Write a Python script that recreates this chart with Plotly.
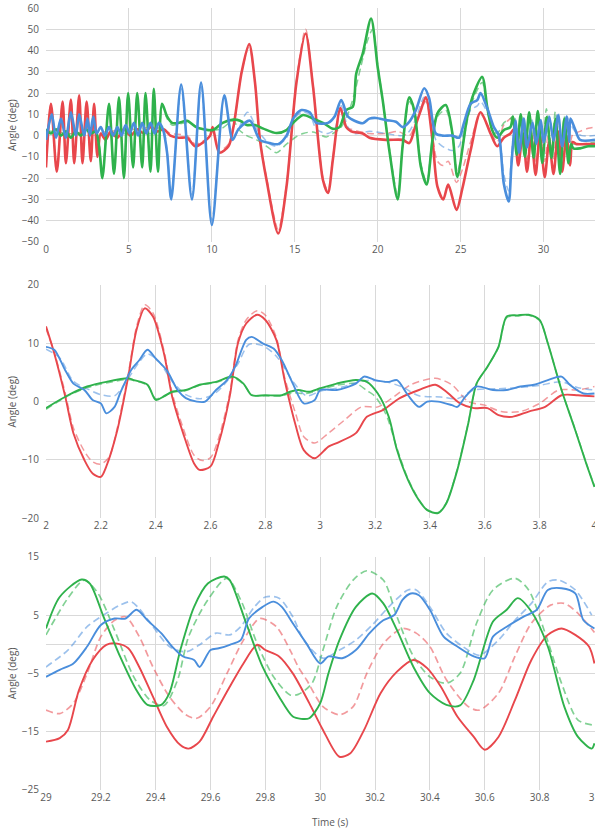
import plotly.graph_objects as go

# ---------------- Panel 1 (0-33 s) ----------------
red1_t = [0, 0.3, 0.65, 1.0, 1.2, 1.5, 1.7, 2.0, 2.2, 2.45, 2.7, 2.9, 3.1, 3.3, 3.6, 3.9, 4.3, 4.7, 5.1, 5.5, 5.9, 6.3, 6.7, 7.1, 7.5, 8.0, 8.5, 9.0, 9.5, 9.9, 10.05, 10.45, 11.0, 11.3, 11.8, 12.25, 12.6, 12.9, 13.3, 14.0, 14.5, 15.1, 15.65, 16.1, 16.7, 17.0, 17.3, 17.75, 18.1, 18.4, 19.1, 19.5, 20.5, 21.5, 21.9, 22.25, 22.6, 22.9, 23.3, 23.6, 23.95, 24.25, 24.75, 25.1, 25.6, 26.2, 26.8, 27.2, 27.6, 28.0, 28.2, 28.47, 28.75, 29.0, 29.25, 29.52, 29.77, 30.07, 30.33, 30.6, 30.87, 31.12, 31.38, 31.6, 31.75, 32.0, 32.5, 33.1]
red1_v = [-15, 15, -17, 16, -13, 17, -13, 19, -13, 16, -12, 15, -10, 1, -2, 2, -1, 3, 0, 3, 1, 4, 2, 3, 0, -1, -1, -5, -3, 0, 4, -8, -5, 4, 30, 43, 25, -2, -21, -46, -24, 25, 48, 23, -21, -27, -11, 13, 4, 2, 1, -1, -2, -2, -3.5, 4, 12, 18, -2, -24, -30, -23, -35, -25, -7, 11, 1, -5, -1, 1, 3, -14, 1, -17, 0, -18.5, 0, -19.5, -3, -18, 2, -17, 0, -14, -3, -4, -4, -4]
red1d_t = [0, 0.3, 0.65, 1.0, 1.2, 1.5, 1.7, 2.0, 2.2, 2.45, 2.7, 2.9, 3.1, 3.3, 3.9, 4.7, 5.5, 6.3, 7.1, 7.5, 8.5, 9.0, 9.9, 10.05, 10.45, 11.0, 11.3, 11.8, 12.25, 12.6, 12.9, 13.3, 14.0, 14.5, 15.1, 15.65, 16.1, 16.7, 17.0, 17.3, 17.75, 18.1, 18.4, 19.5, 20.5, 21.2, 21.9, 22.25, 22.9, 23.3, 23.6, 23.95, 24.25, 24.75, 25.1, 25.6, 26.2, 26.8, 27.2, 27.6, 28.0, 28.2, 28.47, 28.75, 29.0, 29.29, 29.55, 29.78, 30.07, 30.3, 30.58, 30.89, 31.15, 31.4, 31.6, 31.75, 32.2, 32.7, 33.1]
red1d_v = [-14, 15, -16, 16, -12, 17, -12, 18, -12, 16, -11, 14, -9, 1, 2, 3, 3, 4, 3, 1, 0, -4, 0, 3, -7, -4, 4, 30, 42, 25, -2, -20, -44, -23, 26, 50, 24, -20, -26, -10, 12, 4, 3, 1, 1, 2, 0, 5, 16, 0, -12, -14, -12, -22, -16, -3, 10, 2, -3, 5, 8, 9, -9, 5, -11.3, 4.7, -12.7, 4.4, -12.1, 2.7, -11.3, 7, -8, 5, -4, 0.5, 2, 3.5, 4]

green1_t = [0, 0.3, 0.6, 0.9, 1.2, 1.5, 1.8, 2.1, 2.4, 2.7, 3.0, 3.2, 3.4, 3.8, 4.1, 4.4, 4.7, 4.95, 5.25, 5.5, 5.8, 6.0, 6.3, 6.5, 6.75, 7.0, 7.3, 7.6, 8.0, 8.5, 9.05, 9.5, 10.05, 10.65, 11.3, 11.7, 12.1, 12.6, 13.1, 13.9, 14.5, 14.9, 15.5, 16.1, 16.7, 17.3, 17.7, 18.1, 18.5, 18.7, 19.1, 19.6, 20.0, 20.3, 20.7, 21.2, 21.5, 21.9, 22.2, 22.6, 22.95, 23.3, 23.6, 24.1, 24.5, 24.8, 25.4, 25.8, 26.3, 26.6, 26.9, 27.2, 27.6, 28.0, 28.15, 28.38, 28.62, 28.87, 29.13, 29.4, 29.65, 29.92, 30.19, 30.48, 30.72, 31.0, 31.25, 31.5, 31.65, 31.8, 32.2, 32.7, 33.1]
green1_v = [3, 1, 3, 0, 2, -1, 2, 0, 3, 1, 2, -5, -20, 15, -18, 18, -20, 20, -15, 20, -15, 20, -17, 22, -17, 15, 9, 6, 6, 7, 4, 3, 2.6, 6, 7.5, 7, 5, 5, 3.3, 1.2, 2.6, 6, 9.7, 8, 6, 3.2, 4, 12, 13.6, 29, 38.7, 55, 32, 16.7, -7, -30, -5, 18, 12, -14.6, -23, -2, 10.5, 14.4, 1.2, -19.4, 8.8, 20, 27.6, 13.5, 2.6, -1, 2.6, 4, 9, -9, 10, -10, 11, -10.4, 11.6, -12.9, 8.7, -10.5, 7.9, -18, 8, -13, -4, -6, -6, -5, -5]
green1d_t = [0, 0.6, 1.2, 1.8, 2.4, 3.0, 3.2, 3.4, 3.8, 4.1, 4.4, 4.7, 4.95, 5.25, 5.5, 5.8, 6.0, 6.3, 6.5, 6.75, 7.0, 7.3, 7.6, 8.5, 9.5, 10.5, 11.3, 11.6, 12.1, 12.7, 13.3, 13.9, 14.5, 15.0, 15.5, 16.1, 16.9, 17.3, 17.8, 18.2, 18.6, 19.0, 19.4, 19.7, 20.0, 20.3, 20.7, 21.2, 21.5, 21.9, 22.2, 22.6, 22.95, 23.3, 23.6, 24.1, 24.5, 24.8, 25.4, 25.8, 26.3, 26.6, 26.9, 27.2, 27.6, 28.0, 28.15, 28.4, 28.64, 28.9, 29.14, 29.43, 29.66, 29.92, 30.17, 30.46, 30.71, 31.0, 31.25, 31.5, 31.65, 31.8, 32.3, 33.1]
green1d_v = [2, 2, 1, 1, 2, 2, -4, -18, 14, -17, 17, -19, 19, -14, 19, -14, 19, -16, 21, -16, 14, 8, 5, 6, 3, 3, 7, 3, 0, -2, -5, -8, -4, -1, 1, 1.7, -0.6, 1, 4, 10, 20, 33, 45, 50, 33, 17, -6, -28, -5, 16, 11, -13, -22, -1, 9, 12, 0, -17, 7, 18, 25, 12, 3, 1, 6, 8, 9, -8, 10, -9, 11, -10.5, 11.3, -9, 12.6, -6.7, 11.3, -13.9, 9, -10, -3, -4, -4, -3]

blue1_t = [0, 0.35, 0.6, 0.9, 1.2, 1.5, 1.8, 2.0, 2.3, 2.5, 2.65, 2.85, 3.05, 3.3, 3.55, 3.8, 4.05, 4.3, 4.55, 4.8, 5.05, 5.3, 5.55, 5.8, 6.05, 6.3, 6.55, 6.8, 7.05, 7.3, 7.55, 8.15, 8.8, 9.35, 10.0, 10.75, 11.25, 11.6, 12.3, 12.9, 13.5, 14.0, 14.5, 14.9, 15.4, 15.9, 16.3, 17.0, 17.4, 17.8, 18.2, 18.6, 19.1, 19.5, 19.9, 20.5, 21.1, 21.5, 21.9, 22.3, 22.8, 23.1, 23.3, 23.5, 23.9, 24.5, 24.9, 25.2, 25.6, 26.0, 26.2, 26.6, 27.0, 27.3, 27.6, 27.9, 28.05, 28.2, 28.3, 28.52, 28.8, 29.0, 29.33, 29.56, 29.83, 30.0, 30.34, 30.6, 30.88, 31.12, 31.4, 31.55, 31.62, 31.9, 32.2, 33.1]
blue1_v = [-2, 10, -1, 8, -1, 11, 0, 10, 0, 8, 0, 9, 1, 4, 0, 4, 0, 4, 0, 5, 1, 6, 0, 6, 1, 6, 1, 6, 3, -8, -30, 24, -30, 25, -42, 19, -2, 3, 7, -2, -3.5, -4, 0, 8, 12, 11, 6, 6, 9, 16.7, 9, 7, 5.8, 8, 8.3, 7.3, 6.5, 4, 6.5, 12, 22.3, 17.6, 7.3, 1, 0, 0, -1, 6, 15, 16.7, 20, 13, 4, 0, -22.5, -31, -15, 0, 7, -8, 8, -5.6, 6, -3.9, 7.3, -3.3, 8.7, -2.4, 9.6, -5, 9, -3, 8, 3, -2, -2]
blue1d_t = [0, 0.35, 0.6, 0.9, 1.2, 1.5, 1.8, 2.0, 2.3, 2.5, 2.65, 2.85, 3.05, 3.55, 4.05, 4.55, 5.05, 5.55, 6.05, 6.55, 7.05, 7.3, 7.55, 8.15, 8.8, 9.35, 10.0, 10.75, 11.25, 11.6, 12.15, 12.8, 13.5, 13.9, 14.5, 14.9, 15.4, 15.9, 16.3, 17.0, 17.4, 17.8, 18.2, 18.6, 19.5, 20.5, 21.5, 21.9, 22.3, 22.8, 23.1, 23.3, 23.5, 23.9, 24.5, 24.9, 25.2, 25.6, 26.0, 26.2, 26.6, 27.0, 27.3, 27.6, 27.9, 28.05, 28.2, 28.3, 28.52, 28.8, 29.0, 29.31, 29.51, 29.8, 30.01, 30.34, 30.58, 30.87, 31.12, 31.4, 31.6, 31.9, 32.3, 33.1]
blue1d_v = [-1, 9, -1, 8, -1, 10, 0, 9, 0, 8, 0, 8, 1, 0, 1, 1, 1, 1, 1, 1, 3, -7, -28, 22, -28, 23, -40, 18, -2, 3, 11, 2, -4, -5, -1, 7, 11, 10, 3, 1, 3, 14, 4, 1, 2, 1, 0, 2, 8, 18, 14, 5, -2, -5, -7, -5, 3, 12, 14, 16, 11, 4, 1, -18, -26, -10, 2, 8, -6, 8, -3.9, 7.3, -1.3, 8.1, -2.4, 9.3, -1.9, 11, -3, 9, 6, 2, 0, 0]

# ---------------- Panel 2 (2-4 s) ----------------
red2_t = [2.0, 2.03, 2.07, 2.1, 2.14, 2.17, 2.2, 2.22, 2.26, 2.3, 2.33, 2.36, 2.39, 2.43, 2.46, 2.5, 2.54, 2.56, 2.6, 2.63, 2.67, 2.7, 2.73, 2.77, 2.8, 2.84, 2.87, 2.91, 2.94, 2.98, 3.03, 3.06, 3.13, 3.17, 3.23, 3.29, 3.36, 3.42, 3.46, 3.51, 3.56, 3.61, 3.65, 3.7, 3.76, 3.82, 3.88, 3.94, 4.0]
red2_v = [12.9, 8.3, 0.9, -5.4, -10, -12.3, -12.9, -11.1, -4.9, 4.3, 12.3, 16, 14.6, 8.3, 0.9, -5.4, -10.6, -11.7, -11.1, -7.1, 0.9, 10, 13.4, 14.9, 14, 10.6, 3.7, -4, -8.3, -9.7, -7.7, -7.1, -5.4, -2.6, -1.4, 0.6, 2, 2.9, 1.7, -0.3, -1.1, -1.1, -2.3, -2.6, -1.7, -0.9, 1.1, 1.1, 0.9]
red2d_t = [2.0, 2.03, 2.07, 2.1, 2.14, 2.17, 2.2, 2.23, 2.26, 2.3, 2.33, 2.36, 2.39, 2.43, 2.46, 2.5, 2.54, 2.57, 2.6, 2.63, 2.67, 2.7, 2.73, 2.77, 2.8, 2.84, 2.87, 2.91, 2.94, 2.98, 3.03, 3.09, 3.15, 3.21, 3.27, 3.33, 3.42, 3.48, 3.54, 3.6, 3.66, 3.73, 3.8, 3.87, 3.94, 4.0]
red2d_v = [12.5, 8.5, 1.5, -4.5, -8.5, -10.3, -10.7, -9.5, -4.5, 4.8, 12.8, 16.6, 15.2, 8.8, 1.5, -4.5, -9.2, -10.1, -9.6, -6.2, 1.5, 10.5, 14, 15.6, 14.8, 11, 4.2, -2, -6, -7.1, -5.4, -3.1, -0.9, -0.9, 0.9, 2.9, 4, 2.9, 0, -0.6, -1.7, -1.7, -0.3, 2, 2, 2.6]

green2_t = [2.0, 2.08, 2.15, 2.22, 2.3, 2.32, 2.37, 2.4, 2.43, 2.46, 2.51, 2.56, 2.62, 2.68, 2.72, 2.75, 2.8, 2.86, 2.89, 2.92, 2.96, 3.0, 3.06, 3.13, 3.17, 3.21, 3.25, 3.28, 3.32, 3.36, 3.39, 3.43, 3.46, 3.5, 3.54, 3.57, 3.61, 3.65, 3.68, 3.72, 3.76, 3.8, 3.83, 3.88, 3.93, 3.97, 4.0]
green2_v = [-1.1, 1.1, 2.6, 3.4, 4, 3.7, 2.9, 0.3, 0.9, 1.7, 2, 2.9, 3.4, 4.3, 3.1, 1.1, 1.1, 1.1, 1.7, 2, 1.7, 2.3, 3.1, 3.7, 3.4, 1.4, -2.6, -8.3, -13.4, -16.9, -18.6, -19.1, -17.4, -11.7, -3.7, 3.1, 6, 9.4, 14.6, 14.8, 14.9, 14, 10, 2, -4.9, -10.6, -14.6]
green2d_t = [2.0, 2.08, 2.15, 2.22, 2.3, 2.32, 2.37, 2.4, 2.43, 2.46, 2.51, 2.56, 2.62, 2.68, 2.72, 2.75, 2.8, 2.86, 2.9, 2.95, 3.0, 3.06, 3.13, 3.17, 3.2, 3.24, 3.28, 3.32, 3.36, 3.39, 3.43, 3.46, 3.5, 3.54, 3.57, 3.61, 3.65, 3.68, 3.72, 3.76, 3.8, 3.83, 3.88, 3.93, 3.97, 4.0]
green2d_v = [-1.3, 1.0, 2.4, 3.2, 3.8, 3.6, 2.8, 0.5, 1.0, 1.6, 1.9, 2.8, 3.3, 4.1, 3.0, 1.2, 1.0, 1.0, 1.5, 1.4, 2.0, 2.8, 3.1, 1.9, 0.9, -2.2, -8.0, -13.2, -16.8, -18.5, -19.0, -17.3, -11.5, -3.6, 3.0, 6.0, 9.3, 14.4, 14.7, 14.8, 13.9, 10.0, 2.0, -4.8, -10.5, -14.5]

blue2_t = [2.0, 2.03, 2.07, 2.1, 2.14, 2.17, 2.2, 2.22, 2.25, 2.27, 2.31, 2.34, 2.37, 2.4, 2.44, 2.48, 2.51, 2.55, 2.58, 2.62, 2.66, 2.69, 2.73, 2.75, 2.79, 2.83, 2.86, 2.9, 2.94, 2.98, 3.0, 3.06, 3.13, 3.16, 3.2, 3.25, 3.28, 3.32, 3.36, 3.39, 3.43, 3.48, 3.5, 3.53, 3.57, 3.63, 3.68, 3.73, 3.78, 3.83, 3.88, 3.91, 3.96, 4.0]
blue2_v = [9.4, 8.9, 5.4, 3.1, 2, 0.3, -0.3, -2, -0.9, 1.4, 5.4, 7.1, 8.9, 7.4, 5.4, 2, 0.6, 0, 0, 2, 3.7, 6, 10.6, 11.1, 10, 9.1, 7.1, 3.1, -0.3, 0.3, 2, 2, 3.1, 4.3, 3.7, 3.4, 3.7, 1.1, -0.9, 0, 0, -0.6, -0.9, 0.9, 2.6, 2, 2, 2.6, 2.9, 3.7, 4.3, 2.9, 1.4, 1.4]
blue2d_t = [2.0, 2.05, 2.1, 2.15, 2.2, 2.25, 2.3, 2.34, 2.37, 2.41, 2.46, 2.51, 2.56, 2.61, 2.66, 2.7, 2.74, 2.79, 2.84, 2.9, 2.95, 3.0, 3.08, 3.16, 3.24, 3.3, 3.36, 3.44, 3.5, 3.56, 3.64, 3.72, 3.8, 3.88, 3.94, 4.0]
blue2d_v = [9.0, 7.5, 3.5, 2.2, 1.2, 1.0, 4.0, 6.8, 8.2, 7.0, 3.5, 1.2, 0.5, 1.2, 3.5, 6.5, 9.8, 9.6, 7.8, 3.5, 1.0, 1.8, 2.5, 3.6, 3.4, 2.5, 1.0, 0.8, 0.5, 2.0, 2.2, 2.4, 2.8, 3.4, 2.4, 2.0]

# ---------------- Panel 3 (29-31 s) ----------------
red3_t = [29.0, 29.05, 29.08, 29.12, 29.17, 29.22, 29.26, 29.3, 29.34, 29.39, 29.44, 29.49, 29.52, 29.56, 29.61, 29.67, 29.72, 29.77, 29.8, 29.85, 29.9, 29.96, 30.01, 30.07, 30.11, 30.16, 30.22, 30.28, 30.34, 30.39, 30.44, 30.5, 30.56, 30.6, 30.65, 30.71, 30.77, 30.83, 30.88, 30.93, 30.98, 31.0]
red3_v = [-16.7, -16.1, -14.7, -7.9, -2.7, -0.1, 0.1, -0.7, -3.9, -9, -14.1, -17.3, -17.9, -16.7, -12.4, -7.3, -3.3, -0.1, -1, -2.1, -5, -10.1, -14.7, -19.3, -18.7, -14.7, -8.4, -4.7, -2.7, -4.1, -7.3, -12.4, -15.9, -18.1, -15.9, -9.6, -2.7, 1.6, 2.7, 1.6, -0.4, -3.3]
red3d_t = [29.0, 29.05, 29.1, 29.15, 29.2, 29.25, 29.29, 29.34, 29.39, 29.45, 29.51, 29.55, 29.6, 29.66, 29.72, 29.78, 29.84, 29.89, 29.92, 29.95, 30.01, 30.07, 30.12, 30.17, 30.23, 30.3, 30.35, 30.4, 30.46, 30.54, 30.58, 30.65, 30.71, 30.77, 30.84, 30.89, 30.94, 31.0]
red3d_v = [-11.3, -11.9, -10.1, -5, 1.3, 4.1, 4.7, 1.3, -3.9, -9, -12.1, -12.7, -10.7, -5, 0.7, 4.4, 3, -1, -3.9, -6.1, -10.7, -12.1, -10.7, -5, 0.1, 2.7, 1.9, -0.4, -6.1, -10.7, -11.3, -8.4, -2.1, 3.6, 6.7, 7, 5.3, 2]

green3_t = [29.0, 29.05, 29.13, 29.16, 29.21, 29.27, 29.33, 29.37, 29.42, 29.45, 29.49, 29.54, 29.59, 29.65, 29.67, 29.73, 29.79, 29.85, 29.9, 29.93, 29.96, 30.0, 30.03, 30.07, 30.13, 30.19, 30.23, 30.28, 30.34, 30.4, 30.46, 30.51, 30.56, 30.63, 30.68, 30.72, 30.77, 30.83, 30.89, 30.94, 30.99, 31.0]
green3_v = [2.7, 8.1, 11.1, 10.4, 4.7, -2.1, -7.9, -10.4, -10.4, -8.4, -1, 6.4, 10.4, 11.6, 11, 3.6, -3.9, -9, -12.4, -12.8, -12.7, -10.1, -5, 0.7, 6.4, 8.7, 7, 2.4, -3.9, -8.4, -10.4, -10.5, -6.1, 3.9, 5.9, 7.9, 5.6, -0.4, -10.7, -15.9, -17.9, -17]
green3d_t = [29.0, 29.08, 29.14, 29.19, 29.25, 29.32, 29.38, 29.43, 29.48, 29.52, 29.59, 29.66, 29.71, 29.77, 29.83, 29.89, 29.92, 29.97, 30.01, 30.06, 30.12, 30.17, 30.23, 30.28, 30.34, 30.4, 30.46, 30.51, 30.57, 30.63, 30.71, 30.76, 30.82, 30.88, 30.94, 31.0]
green3d_v = [1.6, 7.9, 11, 8.7, 2.4, -5.6, -9.6, -10.5, -6.1, 1.3, 7.6, 11.3, 7.6, 0.1, -5.6, -8.7, -8.6, -6.7, -1, 6.4, 11, 12.6, 11, 4.7, -2.1, -5.6, -6.7, -5, 3.6, 9.3, 11.3, 9.3, 1.9, -6.7, -13, -13.9]

blue3_t = [29.0, 29.05, 29.1, 29.15, 29.2, 29.25, 29.29, 29.33, 29.37, 29.42, 29.46, 29.5, 29.54, 29.56, 29.6, 29.63, 29.67, 29.71, 29.74, 29.79, 29.83, 29.86, 29.9, 29.95, 30.0, 30.03, 30.08, 30.13, 30.18, 30.23, 30.27, 30.3, 30.33, 30.36, 30.4, 30.45, 30.5, 30.56, 30.6, 30.63, 30.68, 30.74, 30.79, 30.83, 30.88, 30.93, 30.96, 31.0]
blue3_v = [-5.6, -4.4, -3.3, -0.4, 3.3, 4.4, 4.4, 5.9, 4.1, 1.9, -0.4, -2.1, -2.7, -3.9, -1, -0.7, -0.1, 0.7, 4.4, 6.4, 7.3, 6.4, 3.6, 0.1, -3.3, -2.1, -2.4, -1, 1.9, 4.1, 5, 7.6, 8.7, 8.4, 5.9, 1.3, -0.4, -2.1, -2.4, 1.3, 3, 4.7, 5.9, 9.3, 9.6, 8.7, 4.1, 2.7]
blue3d_t = [29.0, 29.08, 29.15, 29.21, 29.27, 29.31, 29.34, 29.39, 29.45, 29.51, 29.56, 29.62, 29.67, 29.71, 29.76, 29.8, 29.85, 29.9, 29.94, 30.01, 30.07, 30.13, 30.19, 30.25, 30.32, 30.35, 30.4, 30.46, 30.52, 30.58, 30.65, 30.71, 30.77, 30.83, 30.87, 30.93, 30.99]
blue3d_v = [-3.9, -1, 3, 5, 6.7, 7.3, 6.1, 3, -0.4, -1.3, -0.1, 1.9, 1.6, 3, 6.4, 8.1, 7.9, 4.7, 0.7, -2.4, -1, 0.7, 3.3, 6.4, 9.3, 9.3, 6.4, 1.9, -0.4, -1.9, 0.7, 4.1, 7, 10.7, 11, 9.3, 5]

# ---------------- styling ----------------
RED = "#E8474C"
GREEN = "#2FB24C"
BLUE = "#4A8EDC"
RED_D = "rgba(232,71,76,0.55)"
GREEN_D = "rgba(47,178,76,0.6)"
BLUE_D = "rgba(74,142,220,0.55)"

fig = go.Figure()

panels = [
    ("x", "y", [(red1d_t, red1d_v, RED_D), (green1d_t, green1d_v, GREEN_D), (blue1d_t, blue1d_v, BLUE_D)],
     [(red1_t, red1_v, RED), (green1_t, green1_v, GREEN), (blue1_t, blue1_v, BLUE)], 2.6, 1.5),
    ("x2", "y2", [(red2d_t, red2d_v, RED_D), (green2d_t, green2d_v, GREEN_D), (blue2d_t, blue2d_v, BLUE_D)],
     [(red2_t, red2_v, RED), (green2_t, green2_v, GREEN), (blue2_t, blue2_v, BLUE)], 1.9, 1.5),
    ("x3", "y3", [(red3d_t, red3d_v, RED_D), (green3d_t, green3d_v, GREEN_D), (blue3d_t, blue3d_v, BLUE_D)],
     [(red3_t, red3_v, RED), (green3_t, green3_v, GREEN), (blue3_t, blue3_v, BLUE)], 1.9, 1.7),
]

for xa, ya, dashed, solid, sw, dw in panels:
    for t, v, c in dashed:
        fig.add_trace(go.Scatter(x=t, y=v, mode="lines", xaxis=xa, yaxis=ya,
                                 line=dict(color=c, width=dw, dash="7px,4px", shape="spline", smoothing=0.8),
                                 showlegend=False, hoverinfo="skip"))
    for t, v, c in solid:
        fig.add_trace(go.Scatter(x=t, y=v, mode="lines", xaxis=xa, yaxis=ya,
                                 line=dict(color=c, width=sw, shape="spline", smoothing=0.8),
                                 showlegend=False, hoverinfo="skip"))

GRID = "#D9D9D9"
TICKF = dict(family="Open Sans, Arial, sans-serif", size=10, color="#595959")

def xax(rng, dtick, tick0, anchor):
    return dict(range=rng, dtick=dtick, tick0=tick0, showgrid=True, gridcolor=GRID, gridwidth=1,
                zeroline=False, showline=False, ticks="", tickfont=TICKF, anchor=anchor,
                domain=[0, 1], automargin=False, ticklabeloverflow="allow")

def yax(rng, dtick, tick0, dom, anchor):
    return dict(range=rng, dtick=dtick, tick0=tick0, showgrid=True, gridcolor=GRID, gridwidth=1,
                zeroline=True, zerolinecolor=GRID, zerolinewidth=1, showline=False, ticks="",
                tickfont=TICKF, domain=dom, anchor=anchor, ticklabelstandoff=6, automargin=False)

fig.update_layout(
    width=595, height=832,
    margin=dict(l=46, r=0, t=8, b=42, autoexpand=False),
    paper_bgcolor="white", plot_bgcolor="white",
    xaxis=xax([0, 33.1], 5, 0, "y"),
    xaxis2=xax([2, 4.002], 0.2, 2, "y2"),
    xaxis3=xax([29, 31.002], 0.2, 29, "y3"),
    yaxis=yax([-50, 60], 10, -50, [0.7008, 1.0], "x"),
    yaxis2=yax([-20, 20], 10, -20, [0.3474, 0.6458], "x2"),
    yaxis3=yax([-25, 15], 10, -25, [0.0, 0.2983], "x3"),
)

ann_font = dict(family="Open Sans, Arial, sans-serif", size=10, color="#595959")
for yc in [(0.7008 + 1.0) / 2, (0.3474 + 0.6458) / 2, 0.2983 / 2]:
    fig.add_annotation(text="Angle (deg)", xref="paper", yref="paper", x=-0.062, y=yc,
                       textangle=-90, showarrow=False, font=ann_font, xanchor="center", yanchor="middle")
fig.add_annotation(text="Time (s)", xref="paper", yref="paper", x=0.517, y=-0.041,
                   showarrow=False, font=ann_font, xanchor="center", yanchor="middle")

fig.write_html("out.html", config={"displayModeBar": False},
               post_script="document.body.style.margin='0';document.body.style.overflow='hidden';")
